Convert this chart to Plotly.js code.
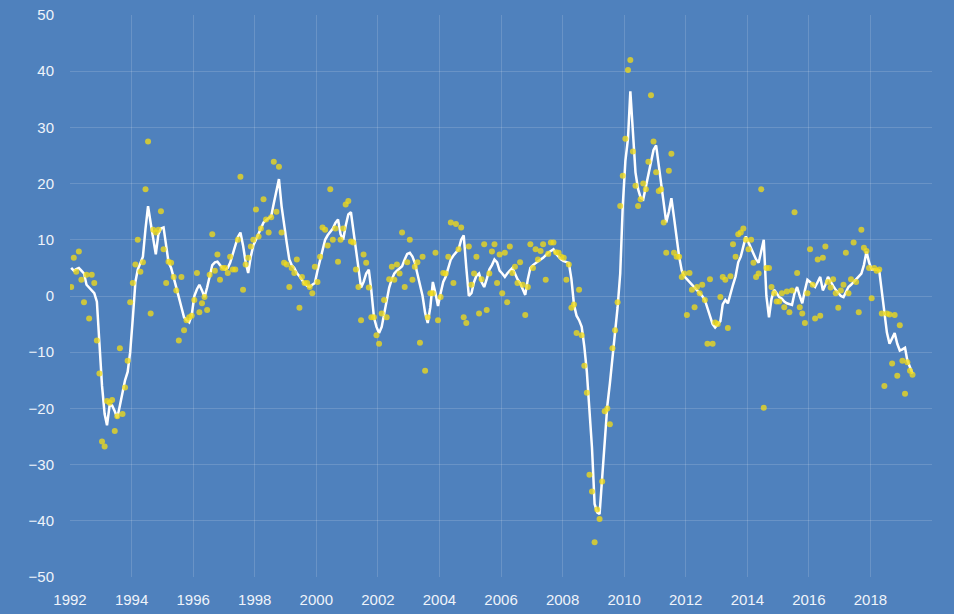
<!DOCTYPE html>
<html>
<head>
<meta charset="utf-8">
<script src="https://cdn.plot.ly/plotly-3.0.1.min.js"></script>
<style>html,body{margin:0;padding:0;background:#4f81bd;}#chart{width:954px;height:614px;}</style>
</head>
<body>
<div id="chart"></div>
<script>
// Smoothed series (white line), monthly from Jan 1992
const line1992 = [5, 4.5, 4.8, 5, 4.5, 4, 2, 1.5, 1, 0.5, -1, -9];
const line1993 = [-16, -21, -23, -19.5, -19.5, -20.5, -21.7, -19.5, -17, -15, -13.5, -10];
const line1994 = [-4, 2.5, 4.7, 5.8, 7, 12, 16, 13, 10, 7.4, 11, 12];
const line1995 = [12.2, 9, 6, 5, 3.4, 1.5, -0.2, -2, -3.8, -4.3, -4.7, -3.4];
const line1996 = [0, 1.2, 2, 1, -0.2, 1.5, 3.4, 5.5, 6, 6.1, 5.5, 5];
const line1997 = [4.7, 5, 5.9, 7.5, 9, 10.5, 11.3, 9, 6, 4.1, 7, 9];
const line1998 = [10, 11, 12, 13.1, 13.5, 13.8, 14.2, 16.5, 19, 20.8, 16, 12.5];
const line1999 = [9.5, 6.5, 5.5, 5, 4.1, 3.5, 2.8, 2.2, 1.8, 1.6, 2, 2.3];
const line2000 = [4.5, 6.5, 8, 10, 10.8, 11.5, 12, 13, 13.6, 11, 10, 12.5];
const line2001 = [14.5, 14.9, 12, 8.8, 5, 1.5, 2.5, 4, 4.7, 1, -3.8, -5.5];
const line2002 = [-6.6, -5.5, -3.5, -1, 1.5, 3, 4, 4.5, 5, 5.3, 6.5, 7.5];
const line2003 = [7.7, 7, 5.9, 4, 2, 0, -3, -4.8, -2, 2.5, 0.5, -1.8];
const line2004 = [0.5, 2.5, 3.4, 5, 6.5, 7.2, 7.8, 8.3, 10, 10.8, 5, 0];
const line2005 = [0.5, 2.5, 3.6, 4, 2.5, 1.6, 3, 4.7, 5.5, 6.5, 6, 4.5];
const line2006 = [4, 3.4, 4, 4.5, 5, 4, 3, 2.3, 1.2, 0.2, 3, 5];
const line2007 = [5.5, 5.9, 6.2, 6.5, 6.8, 7.3, 7.7, 8, 8.3, 7.5, 7, 6.5];
const line2008 = [6.2, 6, 5.9, 3, -1.5, -3.5, -4.3, -5.5, -9, -13.5, -19.5, -27];
const line2009 = [-37, -38.5, -38.8, -32, -24.6, -19.5, -15.6, -11, -6, -2, 4, 16];
const line2010 = [24, 28, 36.4, 29, 22, 19, 17.5, 17.2, 19.5, 22, 23.9, 26];
const line2011 = [26.8, 23, 19.6, 16, 13.1, 15, 17.4, 14, 10, 7, 4.5, 3.5];
const line2012 = [3, 2.5, 2, 1.5, 1, 0.5, 0, -0.7, -2.2, -3.5, -5, -5.6];
const line2013 = [-5, -4.5, -1.5, -0.7, -1.3, 0.5, 2, 3.5, 6, 7, 9, 10.6];
const line2014 = [9.5, 8.5, 7.5, 6.5, 5.9, 8, 10, 0, -3.8, -0.5, 1.1, 0.5];
const line2015 = [-0.2, -0.5, -1, -1.3, -1.5, -1.6, 0.5, 1.6, 0, -1.3, 1, 2.9];
const line2016 = [2.5, 2, 1.6, 2.5, 3.4, 1, 2, 3.4, 2.5, 1.8, 1.1, 0.5];
const line2017 = [0, -0.2, 0.8, 1.6, 2, 2.5, 3, 3.5, 4, 5.5, 7.9, 6];
const line2018 = [4.7, 4.7, 4.7, 4.5, 1, -3, -6.5, -8.5, -7.5, -6.6, -8.5, -9.7];
const line2019 = [-9.5, -9.2, -11.5, -12.7, -13.8];

// Monthly values (gold dots)
const dots1992 = [1.6, 6.8, 4.3, 7.9, 2.9, -1.1, 3.8, -4, 3.8, 2.3, -7.9, -13.8];
const dots1993 = [-25.9, -26.8, -18.7, -19, -18.5, -24, -21.4, -9.3, -21, -16.3, -11.5, -1.1];
const dots1994 = [2.3, 5.6, 10, 4.3, 6, 19, 27.5, -3.1, 11.8, 11.3, 11.8, 15.1];
const dots1995 = [8.3, 2.3, 6.1, 5.9, 3.4, 1, -7.9, 3.4, -6.1, -4.3, -3.8, -3.5];
const dots1996 = [-0.7, 4.1, -2.9, -1.3, -0.2, -2.5, 3.8, 11, 4.5, 7.4, 2.9, 5];
const dots1997 = [5, 4.1, 7, 4.7, 4.7, 10, 21.2, 1.1, 5.6, 6.8, 8.8, 10];
const dots1998 = [15.4, 10.6, 12, 17.2, 13.6, 11.3, 14, 23.9, 15, 23, 11.3, 5.9];
const dots1999 = [5.6, 1.6, 5, 4.1, 6.5, -2.1, 3.4, 2.3, 2.3, 1.6, 0.5, 5.2];
const dots2000 = [2.5, 7, 12.2, 11.8, 9, 19, 10, 12, 6.1, 10, 12, 16.3];
const dots2001 = [16.9, 9.7, 9.5, 4.7, 1.6, -4.3, 7.4, 5.9, 1.5, -3.8, -3.8, -7];
const dots2002 = [-8.5, -3.1, -0.7, -3.8, 3, 5.2, 2.9, 5.6, 4, 11.3, 1.6, 6];
const dots2003 = [10, 2.9, 5.2, 6, -8.3, 7, -13.3, -3.8, 0.5, 0.5, 7.7, -4.3];
const dots2004 = [-0.2, 4.1, 4, 7, 13.1, 2.3, 12.8, 8.3, 12.2, -3.8, -4.8, 8.8];
const dots2005 = [2, 4, 7, -3.1, 3, 9.2, -2.5, 4, 7.9, 9.2, 2.3, 7.4];
const dots2006 = [0.5, 7.7, -1.1, 8.8, 4.1, 5.2, 2.3, 6, 2, -3.4, 1.6, 9.2];
const dots2007 = [5, 8.3, 6.5, 8, 9.2, 2.9, 7.5, 9.5, 9.5, 7.8, 7.7, 7];
const dots2008 = [6.8, 2.9, 5.6, -2.1, -1.5, -6.6, 1.1, -7, -12.4, -17.2, -31.8, -34.8];
const dots2009 = [-43.8, -38, -39.7, -33, -20.5, -20, -22.8, -9.3, -6.1, -1.1, 16, 21.4];
const dots2010 = [28, 40.2, 42, 25.7, 19.6, 16, 17.2, 20, 19, 23.9, 35.7, 27.5];
const dots2011 = [22, 18.7, 19, 13.1, 7.7, 22.3, 25.3, 7.7, 7, 7, 3.4, 4];
const dots2012 = [-3.4, 4.1, 1.1, -2, 1.6, 0.5, 2, -0.7, -8.5, 3, -8.5, -4.7];
const dots2013 = [-5, -0.2, 3.4, 2.9, -5.7, 3.5, 9.2, 7, 11, 11.3, 12, 10];
const dots2014 = [8.3, 10, 5.9, 3.4, 4, 19, -19.9, 5, 5, 1.6, 0.5, -1];
const dots2015 = [-1, 0.5, -2, 0.8, -2.9, 1, 14.9, 4.1, -2, -3.1, -4.8, 0.5];
const dots2016 = [8.3, 2, -4, 6.5, -3.5, 6.8, 8.8, 2.5, 1.5, 3, 0.5, -2.1];
const dots2017 = [1, 2, 7.7, 0.5, 3, 9.5, 2.5, -2.9, 11.8, 8.6, 8, 5];
const dots2018 = [-0.4, 5, 4.5, 4.7, -3.1, -16, -3.1, -3.3, -12, -3.4, -14.2, -5.2];
const dots2019 = [-11.5, -17.4, -11.8, -13.3, -14];

const tickYears = ['1992','1994','1996','1998','2000','2002','2004','2006','2008','2010','2012','2014','2016','2018',''];

const lineValues = [].concat(line1992, line1993, line1994, line1995, line1996, line1997, line1998,
  line1999, line2000, line2001, line2002, line2003, line2004, line2005, line2006, line2007,
  line2008, line2009, line2010, line2011, line2012, line2013, line2014, line2015, line2016,
  line2017, line2018, line2019);
const dotValues = [].concat(dots1992, dots1993, dots1994, dots1995, dots1996, dots1997, dots1998,
  dots1999, dots2000, dots2001, dots2002, dots2003, dots2004, dots2005, dots2006, dots2007,
  dots2008, dots2009, dots2010, dots2011, dots2012, dots2013, dots2014, dots2015, dots2016,
  dots2017, dots2018, dots2019);

function monthDates(n) {
  const out = [];
  for (let i = 0; i < n; i++) {
    const y = 1992 + Math.floor(i / 12);
    const m = (i % 12) + 1;
    out.push(y + '-' + (m < 10 ? '0' + m : m) + '-15');
  }
  return out;
}
const dates = monthDates(Math.max(lineValues.length, dotValues.length));
const tickVals = tickYears.map((t, i) => (1992 + 2 * i) + '-01-01');

const traces = [
  {
    x: dates.slice(0, lineValues.length), y: lineValues, type: 'scatter', mode: 'lines',
    line: {color: '#ffffff', width: 2.5}, hoverinfo: 'x+y'
  },
  {
    x: dates.slice(0, dotValues.length), y: dotValues, type: 'scatter', mode: 'markers',
    marker: {color: 'rgba(240,218,25,0.78)', size: 6, line: {width: 0}}, hoverinfo: 'x+y'
  }
];

const gridColor = 'rgba(255,255,255,0.15)';
const tickFont = {family: 'Liberation Sans, Arial, sans-serif', size: 15, color: '#eef3fa'};

const layout = {
  width: 954, height: 614,
  paper_bgcolor: '#4f81bd', plot_bgcolor: '#4f81bd',
  margin: {l: 70, r: 22, t: 15, b: 37},
  showlegend: false,
  xaxis: {
    type: 'date', range: ['1992-01-01', '2020-01-01'],
    tickmode: 'array', tickvals: tickVals, ticktext: tickYears,
    showgrid: true, gridcolor: gridColor, gridwidth: 1,
    zeroline: false, showline: false, ticks: '',
    tickfont: tickFont, ticklabelstandoff: 12
  },
  yaxis: {
    range: [-50, 50], tickmode: 'linear', tick0: -50, dtick: 10,
    showgrid: true, gridcolor: gridColor, gridwidth: 1,
    zeroline: false, showline: false, ticks: '',
    tickfont: tickFont, ticklabelstandoff: 15
  }
};

Plotly.newPlot('chart', traces, layout, {displayModeBar: false, staticPlot: true});
</script>
</body>
</html>
